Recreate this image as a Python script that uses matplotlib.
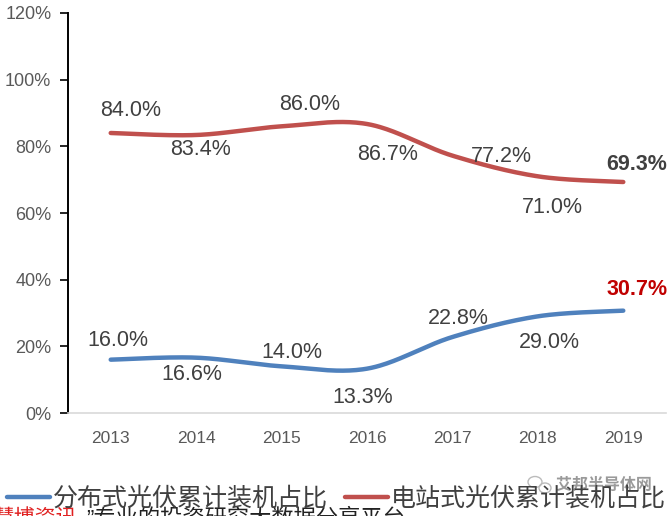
import numpy as np
import matplotlib
matplotlib.use("Agg")
import matplotlib.pyplot as plt
import matplotlib.patheffects as pe
from matplotlib.patches import Ellipse

plt.rcParams['font.family'] = ['Liberation Sans', 'Noto Sans CJK SC', 'DejaVu Sans']

years = ['2013', '2014', '2015', '2016', '2017', '2018', '2019']
distributed = [16.0, 16.6, 14.0, 13.3, 22.8, 29.0, 30.7]
station = [84.0, 83.4, 86.0, 86.7, 77.2, 71.0, 69.3]
series_names = ['分布式光伏累计装机占比', '电站式光伏累计装机占比']
yticks = [0, 20, 40, 60, 80, 100, 120]

BLUE = '#4F81BD'
RED = '#C0504D'
LABEL = '#404040'
TICK = '#595959'


def smooth(xs, ys, n=40):
    xs = np.asarray(xs, float)
    ys = np.asarray(ys, float)
    P = np.column_stack([xs, ys])
    out = [P[0]]
    for i in range(len(P) - 1):
        p0 = P[i - 1] if i > 0 else P[i]
        p1 = P[i]
        p2 = P[i + 1]
        p3 = P[i + 2] if i + 2 < len(P) else P[i + 1]
        c1 = p1 + (p2 - p0) / 6.0
        c2 = p2 - (p3 - p1) / 6.0
        t = np.linspace(0, 1, n)[1:, None]
        b = ((1 - t) ** 3) * p1 + 3 * ((1 - t) ** 2) * t * c1 + 3 * (1 - t) * t ** 2 * c2 + t ** 3 * p2
        out.extend(b)
    out = np.array(out)
    return out[:, 0], out[:, 1]


fig = plt.figure(figsize=(6.72, 5.16), dpi=100)
ax = fig.add_axes([68 / 672, (516 - 413) / 516, (666 - 68) / 672, 400 / 516])

x = np.arange(len(years))
sx, sy = smooth(x, distributed)
ax.plot(sx, sy, color=BLUE, lw=3.2, solid_capstyle='round', label=series_names[0])
sx, sy = smooth(x, station)
ax.plot(sx, sy, color=RED, lw=3.2, solid_capstyle='round', label=series_names[1])

ax.set_xlim(-0.5, len(years) - 0.5)
ax.set_ylim(0, 120)
ax.set_yticks(yticks)
ax.set_yticklabels([f'{v}%' for v in yticks])
ax.set_xticks(x)
ax.set_xticklabels(years)
ax.tick_params(axis='y', direction='out', length=6, width=1.2, color='black',
               labelsize=13, labelcolor=TICK, pad=6)
ax.tick_params(axis='x', length=0, labelsize=12.5, labelcolor=TICK, pad=13)
for s in ['top', 'right']:
    ax.spines[s].set_visible(False)
ax.spines['left'].set_color('black')
ax.spines['left'].set_linewidth(1.4)
ax.spines['bottom'].set_color('#D9D9D9')
ax.spines['bottom'].set_linewidth(1.2)

# label offsets in pixels (style only)
red_off = [(20, 22), (4, -15), (28, 22), (21, -31), (49, -1), (15, -31), (13, 18)]
blue_off = [(7, 19), (-4, -17), (10, 14), (-4, -29), (6, 19), (12, -26), (14, 21)]

for i, v in enumerate(station):
    last = i == len(station) - 1
    ax.annotate(f'{v:.1f}%', (x[i], v), xytext=red_off[i], textcoords='offset pixels',
                ha='center', va='center', fontsize=15.5, color=LABEL,
                fontweight='bold' if last else 'normal')
for i, v in enumerate(distributed):
    last = i == len(distributed) - 1
    ax.annotate(f'{v:.1f}%', (x[i], v), xytext=blue_off[i], textcoords='offset pixels',
                ha='center', va='center', fontsize=15.5,
                color='#C00000' if last else LABEL,
                fontweight='bold' if last else 'normal')

leg = fig.legend(loc='center left', bbox_to_anchor=(7 / 672, 17 / 516), ncol=2, frameon=False,
                 fontsize=18, handlelength=1.72, handletextpad=0.12, columnspacing=0.68,
                 borderpad=0, borderaxespad=0)
for t in leg.get_texts():
    t.set_color('#404040')

# overlaid watermark texts
fig.text(-6 / 672, -3 / 516, '慧博资讯', color='#E02020', fontsize=15, va='center', ha='left')
fig.text(86 / 672, -3 / 516, '”专业的投资研究大数据分享平台', color='#222222', fontsize=16,
         va='center', ha='left')
fig.text(604 / 672, 31 / 516, '艾邦半导体网', color='#9A9A9A', fontsize=11.5, va='center',
         ha='center', fontweight='bold',
         path_effects=[pe.withStroke(linewidth=2.5, foreground='white')])
fig.add_artist(Ellipse((535 / 672, 34 / 516), 14 / 672, 11 / 516, transform=fig.transFigure,
                       fill=False, ec='#BBBBBB', lw=1))
fig.add_artist(Ellipse((545 / 672, 28 / 516), 12 / 672, 10 / 516, transform=fig.transFigure,
                       fill=False, ec='#BBBBBB', lw=1))

fig.savefig('out.png', dpi=100)
